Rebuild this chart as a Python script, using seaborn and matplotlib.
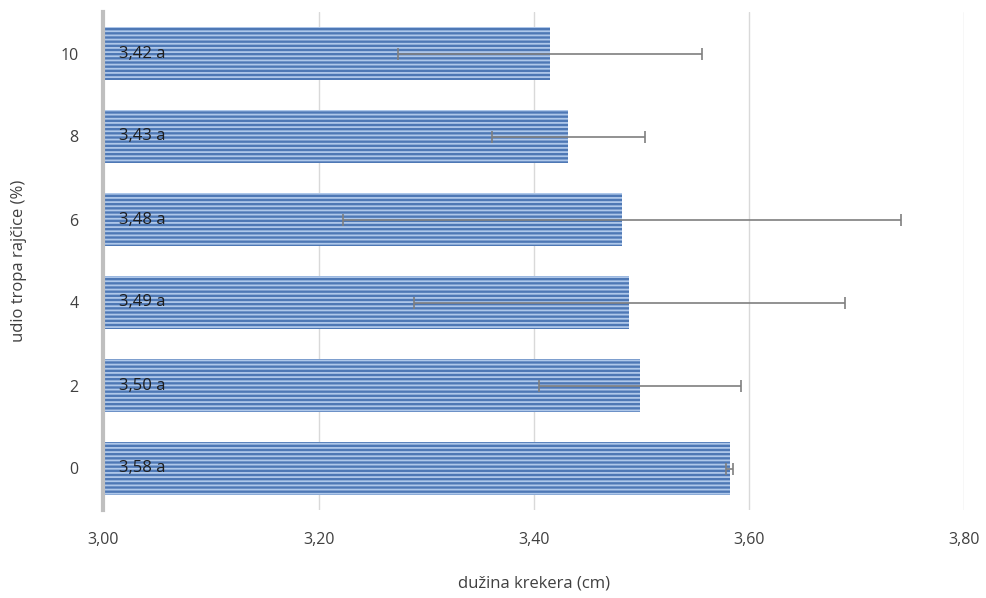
import numpy as np
import pandas as pd
import matplotlib
matplotlib.use("Agg")
import matplotlib.pyplot as plt
import seaborn as sns

# ----------------------------------------------------------
# Data
# ----------------------------------------------------------
udio = ["10", "8", "6", "4", "2", "0"]
duzina = [3.415, 3.432, 3.482, 3.489, 3.499, 3.582]
greska = [0.141, 0.071, 0.259, 0.200, 0.094, 0.003]
oznake = ["3,42 a", "3,43 a", "3,48 a", "3,49 a", "3,50 a", "3,58 a"]
x_ticks = [3.00, 3.20, 3.40, 3.60, 3.80]
x_tick_labels = ["3,00", "3,20", "3,40", "3,60", "3,80"]

df = pd.DataFrame({"udio": udio, "duzina": duzina})

sns.set_style("white")
plt.rcParams["font.family"] = ["Open Sans", "DejaVu Sans"]
plt.rcParams["hatch.linewidth"] = 1.3

fig = plt.figure(figsize=(9.87, 5.98), dpi=100)
ax = fig.add_axes([103.5 / 987, 1 - 510 / 598, (964 - 103.5) / 987, 498 / 598])

sns.barplot(data=df, x="duzina", y="udio", order=udio, orient="h",
            color="#4E78B5", width=0.63, ax=ax, errorbar=None,
            edgecolor="#AFC8EA", linewidth=0, hatch="----",
            saturation=1)

ax.set_xlim(3.0, 3.8)
ax.set_ylim(5.5, -0.5)

# error bars
ax.errorbar(duzina, np.arange(len(udio)), xerr=greska, fmt="none",
            ecolor="#7F7F7F", elinewidth=1.2, capsize=4, capthick=1.2,
            zorder=5)

# value labels inside bars
for i, txt in enumerate(oznake):
    ax.text(3.014, i, txt, va="center", ha="left", fontsize=12,
            color="#1E1E1E", zorder=6)

ax.set_xticks(x_ticks)
ax.set_xticklabels(x_tick_labels)
ax.xaxis.grid(True, color="#D9D9D9", linewidth=1)
ax.set_axisbelow(True)
ax.tick_params(axis="both", length=0, labelsize=11.5, colors="#404040")
ax.tick_params(axis="x", pad=16)
ax.tick_params(axis="y", pad=18)

for side in ["top", "right", "bottom"]:
    ax.spines[side].set_visible(False)
ax.spines["left"].set_color("#BFBFBF")
ax.spines["left"].set_linewidth(3)

ax.set_xlabel("dužina krekera (cm)", fontsize=12, color="#404040", labelpad=20)
ax.set_ylabel("udio tropa rajčice (%)", fontsize=12, color="#404040", labelpad=24)

fig.savefig("out.png", dpi=100)
